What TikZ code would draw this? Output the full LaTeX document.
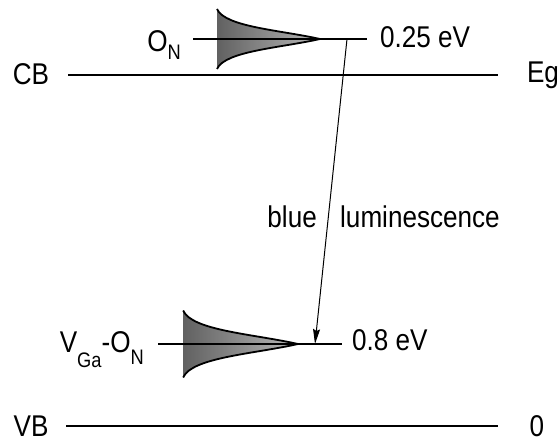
\documentclass[tikz,border=0pt]{standalone}
\usepackage{fontspec}
\setmainfont{Liberation Sans}
\usetikzlibrary{arrows.meta}
\newcommand{\lbl}{\fontsize{30}{32}\selectfont}
\newcommand{\nar}[1]{\scalebox{0.87}[1]{#1}}
\newcommand{\subs}[2]{\raisebox{-#2pt}{\fontsize{21}{22}\selectfont #1}}
\newcommand{\tailpath}{(-103,-30) .. controls (-95,-12) and (-40,-9) .. (0,0)
    .. controls (-40,9) and (-95,12) .. (-103,30)}
\tikzset{
  lvl/.style={line width=2pt},
  tail/.style={line width=1.8pt},
  txt/.style={inner sep=0pt, font=\lbl},
  trans/.style={line width=1pt, -{Stealth[length=15pt,width=7pt,inset=2pt]}}
}
\begin{document}
\begin{tikzpicture}[x=1pt,y=-1pt]
\useasboundingbox (0,0) rectangle (560,441);
% band labels
\node[txt,anchor=base] (CB) at (31,85) {\nar{CB}};
\node[txt,anchor=base] (Eg) at (543,83) {\nar{Eg}};
\node[txt,anchor=base] (VB) at (31,436) {\nar{VB}};
\node[txt,anchor=base] (zero) at (537,436) {\nar{0}};
\coordinate (cbL) at (68,75);
\coordinate (cbR) at (498,75);
\coordinate (vbL) at (66,426);
\coordinate (vbR) at (498,426);
\draw[lvl] (cbL) -- (cbR);
\draw[lvl] (vbL) -- (vbR);
% O_N level
\coordinate (onL) at (193,39);
\coordinate (onR) at (367,39);
\coordinate (onA) at (347,39);
\node[txt,anchor=base east] (ON) at (181,52) {\nar{O\subs{N}{8}}};
\node[txt,anchor=base west] (e025) at (380,48) {\nar{0.25 eV}};
\begin{scope}[shift={(320,39)}]
  \fill[left color=black!62, right color=black!28] \tailpath -- cycle;
  \draw[tail] \tailpath;
\end{scope}
\draw[lvl] (onL) -- (onR);
% V_Ga-O_N level
\coordinate (vgL) at (158,344);
\coordinate (vgR) at (342,344);
\coordinate (vgA) at (315,344);
\node[txt,anchor=base east] (VGaON) at (144,352) {\nar{V\subs{Ga}{15}-O\subs{N}{12}}};
\node[txt,anchor=base west] (e08) at (352,350) {\nar{0.8 eV}};
\begin{scope}[shift={(298,344)},scale=1.115]
  \fill[left color=black!62, right color=black!28] \tailpath -- cycle;
  \draw[tail] \tailpath;
\end{scope}
\draw[lvl] (vgL) -- (vgR);
% transition
\draw[trans] (onA) -- (vgA);
\node[txt,anchor=base east] (blue) at (317,228) {\nar{blue}};
\node[txt,anchor=base west] (lum) at (340,228) {\nar{luminescence}};
\end{tikzpicture}
\end{document}
